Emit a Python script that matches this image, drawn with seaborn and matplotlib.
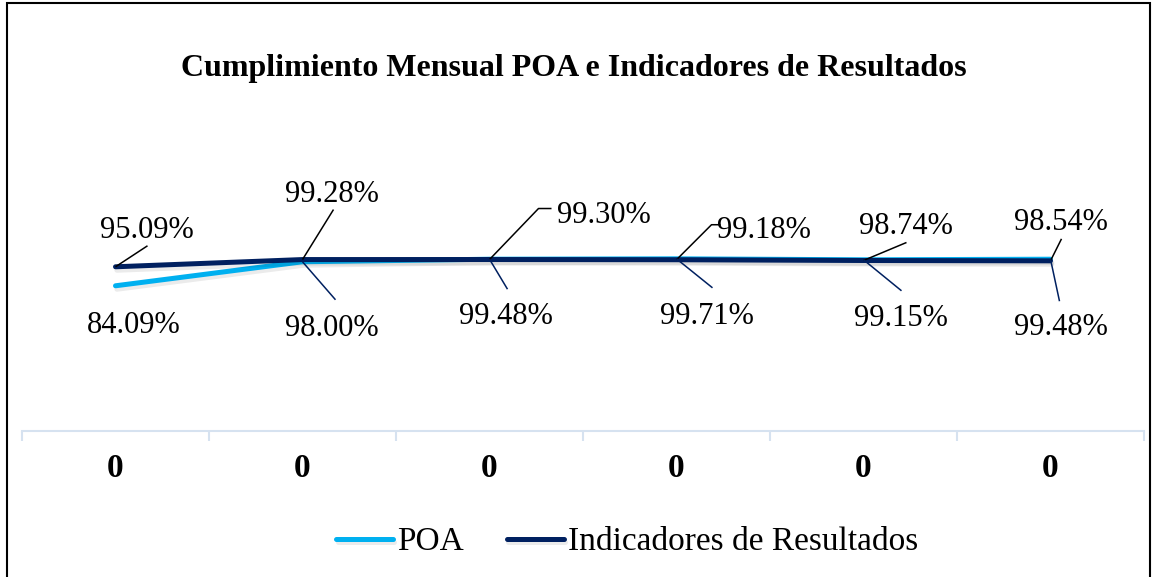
import pandas as pd
import matplotlib.pyplot as plt
import matplotlib.patheffects as pe
from matplotlib.patches import Rectangle
import seaborn as sns

# datos del grafico
meses = ["0", "0", "0", "0", "0", "0"]
poa = [84.09, 98.00, 99.48, 99.71, 99.15, 99.48]
indicadores = [95.09, 99.28, 99.30, 99.18, 98.74, 98.54]

series = ["POA", "Indicadores de Resultados"]
colores = {"POA": "#00B0F0", "Indicadores de Resultados": "#002060"}

df = pd.DataFrame({
    "pos": list(range(len(meses))) * 2,
    "valor": poa + indicadores,
    "serie": [series[0]] * len(poa) + [series[1]] * len(indicadores),
})

sns.set_theme(style="white")
plt.rcParams["font.family"] = ["Liberation Serif", "DejaVu Serif"]
plt.rcParams["text.color"] = "black"
plt.rcParams["xtick.color"] = "black"

W, H = 1154, 577
fig = plt.figure(figsize=(W / 100, H / 100), dpi=100)
ax = fig.add_axes([22 / W, 146 / H, 1122 / W, 282 / H])

sns.lineplot(data=df, x="pos", y="valor", hue="serie", hue_order=series,
             palette=colores, linewidth=3.6, legend=False, ax=ax,
             path_effects=[pe.SimpleLineShadow(offset=(1, -2.5), alpha=0.08, shadow_color="black"),
                           pe.Normal()])
for ln in ax.get_lines():
    ln.set_solid_capstyle("round")

ax.set_xlim(-0.5, len(meses) - 0.5)
ax.set_ylim(0, 163.3)

# eje x estilo Excel
for s in ["top", "right", "left"]:
    ax.spines[s].set_visible(False)
ax.spines["bottom"].set_color("#D6E2F0")
ax.spines["bottom"].set_linewidth(1.5)
ax.set_yticks([])
ax.set_xticks(range(len(meses)))
ax.set_xticklabels(meses, fontsize=24, fontweight="bold")
ax.set_xticks([i - 0.5 for i in range(len(meses) + 1)], minor=True)
ax.tick_params(axis="x", which="major", length=0, pad=16)
ax.tick_params(axis="x", which="minor", length=7, width=1.5, color="#D6E2F0", direction="out", bottom=True)
ax.set_xlabel("")
ax.set_ylabel("")

# etiquetas de datos (desplazamientos en pixeles: texto, codo, fin de guia)
off_ind = [(31, 40, None, (32, 21)), (29, 69, None, (31, 50)), (114, 48, (49, 51), (62, 51)),
           (87, 33, (35, 35), (44, 35)), (42, 37, None, (43, 18)), (10, 42, None, (11, 22))]
off_poa = [(18, -36, None, None), (29, -63, None, (33, -38)), (16, -54, None, (18, -30)),
           (30, -54, None, (36, -29)), (37, -55, None, (38, -31)), (10, -65, None, (9, -42))]


def etiquetar(vals, offs, color_guia):
    inv = ax.transData.inverted()
    for i, (v, (dx, dy, codo, fin)) in enumerate(zip(vals, offs)):
        if fin is not None:
            px, py = ax.transData.transform((i, v))
            pts = [(0, 0)] + ([codo] if codo else []) + [fin]
            xy = [inv.transform((px + a, py + b)) for a, b in pts]
            ax.plot([p[0] for p in xy], [p[1] for p in xy], color=color_guia, lw=1.1,
                    solid_capstyle="butt")
        ax.annotate(f"{v:.2f}%", xy=(i, v), xytext=(dx, dy - 11), textcoords="offset pixels",
                    ha="center", va="baseline", fontsize=22)


etiquetar(indicadores, off_ind, "black")
etiquetar(poa, off_poa, "#002060")

fig.text(574 / W, 1 - 76 / H, "Cumplimiento Mensual POA e Indicadores de Resultados",
         ha="center", va="baseline", fontsize=23, fontweight="bold")

handles = ax.get_lines()[:2]
fig.legend(handles, series, loc="center", bbox_to_anchor=(627 / W, 1 - 542 / H), ncol=2,
           frameon=False, fontsize=24, handlelength=1.7, handletextpad=0.12,
           columnspacing=1.3, borderpad=0)

fig.patches.append(Rectangle((7 / W, -0.02), 1143 / W, 1.02 - 3 / H, transform=fig.transFigure,
                             fill=False, edgecolor="black", linewidth=1.5))

fig.savefig("out.png", dpi=100)
